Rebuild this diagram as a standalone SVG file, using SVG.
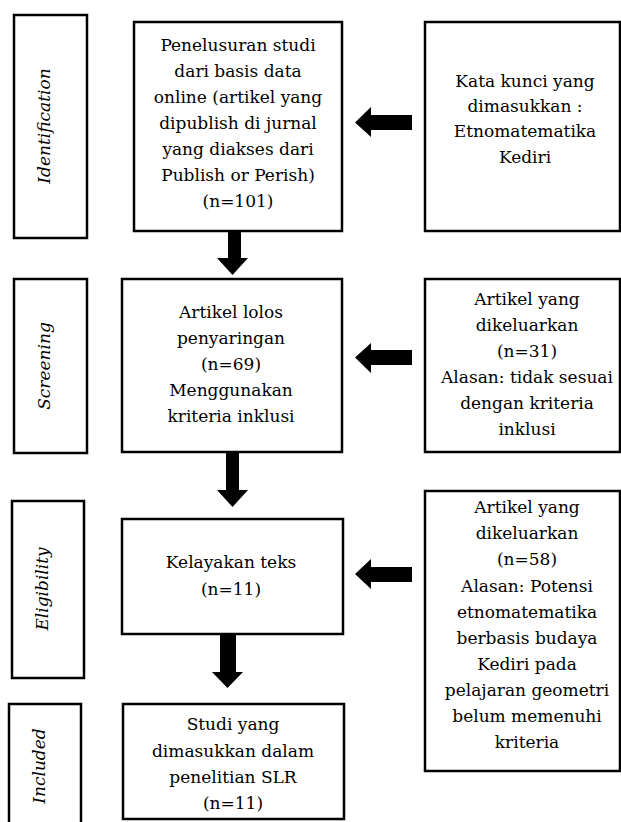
<svg xmlns="http://www.w3.org/2000/svg" width="621" height="822" viewBox="0 0 621 822">
<style>
.box{fill:#fff;stroke:#000;stroke-width:2.5}
.t{font-family:"DejaVu Serif","Liberation Serif",serif;font-size:17px;fill:#000;text-anchor:middle}
.lab{font-family:"DejaVu Serif","Liberation Serif",serif;font-size:17px;font-style:italic;fill:#000;text-anchor:middle}
.arr{fill:#000}
</style>
<rect width="621" height="822" fill="#fff"/>
<g id="stage-identification">
<rect class="box" x="14" y="15" width="73" height="223"/>
<text class="lab" transform="translate(50,126) rotate(-90)">Identification</text>
</g>
<g id="stage-screening">
<rect class="box" x="14" y="279" width="73" height="174"/>
<text class="lab" transform="translate(50,366) rotate(-90)">Screening</text>
</g>
<g id="stage-eligibility">
<rect class="box" x="12" y="501" width="72" height="177"/>
<text class="lab" transform="translate(48,589) rotate(-90)">Eligibility</text>
</g>
<g id="stage-included">
<rect class="box" x="9" y="704" width="72" height="130"/>
<text class="lab" transform="translate(45,766) rotate(-90)">Included</text>
</g>
<g id="node-search">
<rect class="box" x="134" y="22" width="208" height="209"/>
<text class="t" x="238"><tspan x="238" y="51">Penelusuran studi</tspan><tspan x="238" y="77">dari basis data</tspan><tspan x="238" y="103">online (artikel yang</tspan><tspan x="238" y="129">dipublish di jurnal</tspan><tspan x="238" y="155">yang diakses dari</tspan><tspan x="238" y="181">Publish or Perish)</tspan><tspan x="238" y="207">(n=101)</tspan></text>
</g>
<g id="node-keywords">
<rect class="box" x="425" y="22" width="195" height="209"/>
<text class="t"><tspan x="525" y="87">Kata kunci yang</tspan><tspan x="525" y="112">dimasukkan :</tspan><tspan x="525" y="137">Etnomatematika</tspan><tspan x="525" y="163">Kediri</tspan></text>
</g>
<g id="node-screening">
<rect class="box" x="122" y="279" width="220" height="173"/>
<text class="t"><tspan x="231" y="318">Artikel lolos</tspan><tspan x="231" y="344">penyaringan</tspan><tspan x="231" y="370">(n=69)</tspan><tspan x="231" y="396">Menggunakan</tspan><tspan x="231" y="422">kriteria inklusi</tspan></text>
</g>
<g id="node-excluded1">
<rect class="box" x="425" y="279" width="195" height="173"/>
<text class="t"><tspan x="527" y="305">Artikel yang</tspan><tspan x="527" y="331">dikeluarkan</tspan><tspan x="527" y="357">(n=31)</tspan><tspan x="527" y="383">Alasan: tidak sesuai</tspan><tspan x="527" y="409">dengan kriteria</tspan><tspan x="527" y="435">inklusi</tspan></text>
</g>
<g id="node-eligibility">
<rect class="box" x="122" y="519" width="221" height="115"/>
<text class="t"><tspan x="231" y="568">Kelayakan teks</tspan><tspan x="231" y="595">(n=11)</tspan></text>
</g>
<g id="node-excluded2">
<rect class="box" x="425" y="491" width="195" height="280"/>
<text class="t"><tspan x="527" y="513">Artikel yang</tspan><tspan x="527" y="539">dikeluarkan</tspan><tspan x="527" y="565">(n=58)</tspan><tspan x="527" y="592">Alasan: Potensi</tspan><tspan x="527" y="618">etnomatematika</tspan><tspan x="527" y="644">berbasis budaya</tspan><tspan x="527" y="670">Kediri pada</tspan><tspan x="527" y="696">pelajaran geometri</tspan><tspan x="527" y="722">belum memenuhi</tspan><tspan x="527" y="748">kriteria</tspan></text>
</g>
<g id="node-included">
<rect class="box" x="123" y="704" width="221" height="115"/>
<text class="t"><tspan x="233" y="730">Studi yang</tspan><tspan x="233" y="757">dimasukkan dalam</tspan><tspan x="233" y="783">penelitian SLR</tspan><tspan x="233" y="809">(n=11)</tspan></text>
</g>
<g id="connectors">
<polygon class="arr" points="228,231 241,231 241,258 248,258 232.5,275 217,258 228,258"/>
<polygon class="arr" points="226,452 239,452 239,490 248,490 232.5,507 217,490 226,490"/>
<polygon class="arr" points="220,634 236,634 236,672 243,672 227.5,688 212,672 220,672"/>
<polygon class="arr" points="412,115 371,115 371,107 355,122.5 371,137 371,130 412,130"/>
<polygon class="arr" points="412,350 371,350 371,343 355,357.5 371,373 371,365 412,365"/>
<polygon class="arr" points="412,567 371,567 371,559 355,574 371,589 371,582 412,582"/>
</g>
</svg>
